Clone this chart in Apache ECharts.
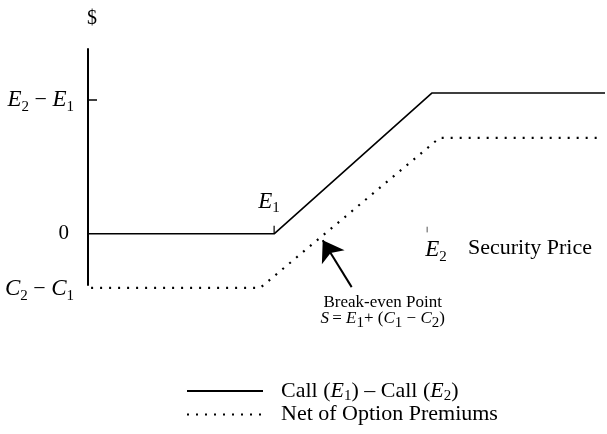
<!DOCTYPE html>
<html>
<head>
<meta charset="utf-8">
<script src="https://cdn.jsdelivr.net/npm/echarts@6/dist/echarts.min.js"></script>
<style>
  html, body { margin: 0; padding: 0; background: #fff; }
  #chart { width: 607px; height: 434px; }
</style>
</head>
<body>
<div id="chart"></div>
<script>
// security price (x) / payoff in $ (y)
const spreadX = [0, 36, 66.5, 100];
const spreadY = [0, 0, 99, 99];
const netX = [0.6, 33.3, 68, 99];
const netY = [-38, -38, 67.5, 67.5];

const seriesNames = ['Call (E1) – Call (E2)', 'Net of Option Premiums'];

// y axis ticks
const yTickValues = [94, 0];
const yTickLabels = ['{i|E}{s|2}{n| − }{i|E}{s|1}', '{z|0}'];

// small strike marks on the price line
const e1MarkX = [36, 36];
const e1MarkY = [0, 5.6];
const e2MarkX = [65.6, 65.6];
const e2MarkY = [1, 5];

// arrow towards the break-even point
const arrowFrom = [51, -37.5];
const arrowTo = [45.4, -4.5];

// text notes: [x, y, text]
const notes = [
  [35, 22.5, '{i|E}{s|1}'],
  [67.3, -11.5, '{i|E}{s|2}'],
  [73.5, -10, '{t|Security Price}'],
  [0, -39, '{i|C}{s|2}{n| − }{i|C}{s|1}'],
  [57, -48.5, '{b|Break-even Point}'],
  [57, -59.5, '{f|S} {b|= }{f|E}{fs|1}{b|+ (}{f|C}{fs|1}{b| − }{f|C}{fs|2}{b|)}']
];

const serif = 'Liberation Serif';
const rich = {
  i: { fontFamily: serif, fontStyle: 'italic', fontSize: 23, color: '#000' },
  n: { fontFamily: serif, fontSize: 22, color: '#000' },
  z: { fontFamily: serif, fontSize: 21, color: '#000', padding: [0, 5, 0, 0] },
  s: { fontFamily: serif, fontSize: 15, color: '#000', padding: [13, 0, 0, 0] },
  t: { fontFamily: serif, fontSize: 22, color: '#000' },
  b: { fontFamily: serif, fontSize: 17, color: '#000' },
  f: { fontFamily: serif, fontStyle: 'italic', fontSize: 17, color: '#000' },
  fs: { fontFamily: serif, fontSize: 15, color: '#000', padding: [9, 0, 0, 0] },
  l: { fontFamily: serif, fontSize: 22, color: '#000' },
  li: { fontFamily: serif, fontStyle: 'italic', fontSize: 22, color: '#000' },
  ls: { fontFamily: serif, fontSize: 15, color: '#000', padding: [10, 0, 0, 0] }
};

const legendText = {
  [seriesNames[0]]: '{l|Call (}{li|E}{ls|1}{l|) – Call (}{li|E}{ls|2}{l|)}',
  [seriesNames[1]]: '{l|Net of Option Premiums}'
};

const zip = (xs, ys) => xs.map((x, k) => [x, ys[k]]);

const chart = echarts.init(document.getElementById('chart'));

chart.setOption({
  animation: false,
  grid: { left: 88, right: 2, top: 49, bottom: 149, outerBoundsMode: 'none' },
  legend: {
    orient: 'vertical',
    left: 181,
    top: 375,
    itemWidth: 76,
    itemHeight: 14,
    itemGap: 0,
    data: seriesNames,
    itemStyle: { opacity: 0 },
    formatter: name => legendText[name],
    textStyle: { color: '#000', padding: [0, 0, 0, 13], rich: rich }
  },
  xAxis: { type: 'value', min: 0, max: 100, show: false },
  yAxis: {
    type: 'value',
    min: -36,
    max: 130,
    name: '$',
    nameLocation: 'end',
    nameGap: 20,
    nameTextStyle: { fontFamily: serif, fontSize: 20, color: '#000', padding: [0, 0, 0, 8] },
    splitLine: { show: false },
    axisLine: { show: true, lineStyle: { color: '#000', width: 2 } },
    axisTick: { show: true, inside: true, length: 9, customValues: [yTickValues[0]], lineStyle: { color: '#000', width: 1.5 } },
    axisLabel: {
      customValues: yTickValues,
      margin: 14,
      color: '#000',
      formatter: v => yTickLabels[yTickValues.indexOf(v)],
      rich: rich
    }
  },
  series: [
    {
      name: seriesNames[0],
      type: 'line',
      data: zip(spreadX, spreadY),
      symbol: 'none',
      lineStyle: { color: '#000', width: 1.6 },
      itemStyle: { color: '#000' }
    },
    {
      name: seriesNames[1],
      type: 'line',
      data: zip(netX, netY),
      symbol: 'none',
      clip: false,
      lineStyle: { color: '#000', width: 2.2, type: [2, 7] },
      itemStyle: { color: '#000' }
    },
    {
      type: 'line',
      data: zip(e1MarkX, e1MarkY),
      symbol: 'none',
      lineStyle: { color: '#000', width: 1.2 }
    },
    {
      type: 'line',
      data: zip(e2MarkX, e2MarkY),
      symbol: 'none',
      lineStyle: { color: '#555', width: 1 }
    },
    {
      type: 'lines',
      coordinateSystem: 'cartesian2d',
      clip: false,
      symbol: ['none', 'arrow'],
      symbolSize: [14, 20],
      lineStyle: { color: '#000', width: 2, opacity: 1, curveness: 0 },
      data: [{ coords: [arrowFrom, arrowTo] }]
    },
    {
      type: 'scatter',
      clip: false,
      symbolSize: 0,
      silent: true,
      itemStyle: { color: '#000', opacity: 1 },
      data: notes.map(n => ({
        value: [n[0], n[1]],
        label: {
          show: true,
          color: '#000',
          textBorderWidth: 0,
          position: n[0] === 0 ? 'left' : (n[2].startsWith('{t|') ? 'right' : 'inside'),
          distance: n[0] === 0 ? 14 : 0,
          formatter: n[2],
          rich: rich
        }
      }))
    }
  ]
});
</script>
</body>
</html>
